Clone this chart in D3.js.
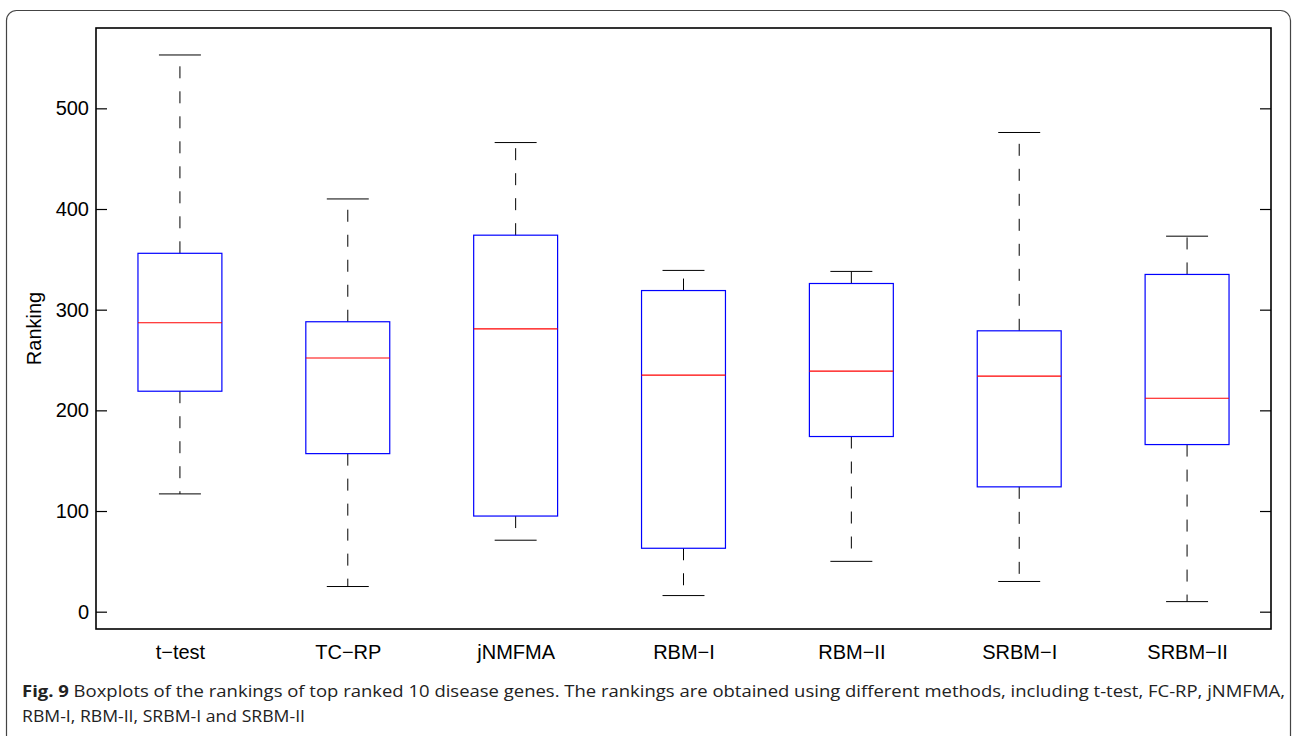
<!DOCTYPE html>
<html>
<head>
<meta charset="utf-8">
<script src="https://cdn.jsdelivr.net/npm/d3@7"></script>
<style>
  html, body { margin: 0; padding: 0; background: #fff; }
  svg { display: block; }
</style>
</head>
<body>
<svg id="chart" width="1292" height="736"></svg>
<script>
// Methods compared and their ranking distributions (five-number summaries)
const methods   = ["t\u2212test", "TC\u2212RP", "jNMFMA", "RBM\u2212I", "RBM\u2212II", "SRBM\u2212I", "SRBM\u2212II"];
const whiskerLo = [117, 25, 71, 16, 50, 30, 10];
const q1        = [219, 157, 95, 63, 174, 124, 166];
const medians   = [287, 252, 281, 235, 239, 234, 212];
const q3        = [356, 288, 374, 319, 326, 279, 335];
const whiskerHi = [553, 410, 466, 339, 338, 476, 373];
const yTicks    = [0, 100, 200, 300, 400, 500];

const svg = d3.select("#chart");

// Outer figure panel with rounded corners
svg.append("rect")
  .attr("x", 6.5).attr("y", 10.5)
  .attr("width", 1284).attr("height", 760)
  .attr("rx", 10).attr("ry", 10)
  .attr("fill", "none").attr("stroke", "#444").attr("stroke-width", 1.2);

const plotL = 96, plotR = 1271, plotT = 28, plotB = 629;

const x = d3.scaleLinear().domain([0.5, methods.length + 0.5]).range([plotL, plotR]);
const y = d3.scaleLinear().domain([-17.2, 579.8]).range([plotB, plotT]);

const boxW = 0.5, capW = 0.25;

const g = svg.append("g");

methods.forEach((m, i) => {
  const c = i + 1;
  const grp = g.append("g");
  // whiskers (dashed)
  grp.append("line")
    .attr("x1", x(c)).attr("x2", x(c))
    .attr("y1", y(q3[i])).attr("y2", y(whiskerHi[i]))
    .attr("stroke", "#000").attr("stroke-width", 1).attr("stroke-dasharray", "12,13");
  grp.append("line")
    .attr("x1", x(c)).attr("x2", x(c))
    .attr("y1", y(q1[i])).attr("y2", y(whiskerLo[i]))
    .attr("stroke", "#000").attr("stroke-width", 1).attr("stroke-dasharray", "12,13");
  // caps
  [whiskerHi[i], whiskerLo[i]].forEach(v => {
    grp.append("line")
      .attr("x1", x(c - capW / 2)).attr("x2", x(c + capW / 2))
      .attr("y1", y(v)).attr("y2", y(v))
      .attr("stroke", "#000").attr("stroke-width", 1);
  });
  // box
  grp.append("rect")
    .attr("x", x(c - boxW / 2)).attr("y", y(q3[i]))
    .attr("width", x(c + boxW / 2) - x(c - boxW / 2))
    .attr("height", y(q1[i]) - y(q3[i]))
    .attr("fill", "none").attr("stroke", "#0000ff").attr("stroke-width", 1.2);
  // median
  grp.append("line")
    .attr("x1", x(c - boxW / 2)).attr("x2", x(c + boxW / 2))
    .attr("y1", y(medians[i])).attr("y2", y(medians[i]))
    .attr("stroke", "#ff0000").attr("stroke-width", 1.2);
});

// Axes frame
svg.append("rect")
  .attr("x", plotL).attr("y", plotT)
  .attr("width", plotR - plotL).attr("height", plotB - plotT)
  .attr("fill", "none").attr("stroke", "#000").attr("stroke-width", 1.6);

const fontAxis = "'Liberation Sans', Arial, Helvetica, sans-serif";

// Left axis with inward ticks
const yAxisL = d3.axisLeft(y).tickValues(yTicks).tickSizeInner(-11).tickSizeOuter(0).tickPadding(7);
const gl = svg.append("g").attr("transform", `translate(${plotL},0)`).call(yAxisL);
gl.select(".domain").remove();
gl.selectAll(".tick line").attr("stroke", "#000").attr("stroke-width", 1.2);
gl.selectAll(".tick text").attr("font-family", fontAxis).attr("font-size", 20).attr("fill", "#000");

// Right axis ticks (mirrored, no labels)
const yAxisR = d3.axisRight(y).tickValues(yTicks).tickSizeInner(-11).tickSizeOuter(0).tickFormat("");
const gr = svg.append("g").attr("transform", `translate(${plotR},0)`).call(yAxisR);
gr.select(".domain").remove();
gr.selectAll(".tick line").attr("stroke", "#000").attr("stroke-width", 1.2);

// Category labels
const xAxis = d3.axisBottom(x).tickValues(d3.range(1, methods.length + 1))
  .tickFormat(d => methods[d - 1]).tickSize(0).tickPadding(16);
const gb = svg.append("g").attr("transform", `translate(0,${plotB})`).call(xAxis);
gb.select(".domain").remove();
gb.selectAll(".tick text").attr("font-family", fontAxis).attr("font-size", 20).attr("fill", "#000");

// Y-axis title
svg.append("text")
  .attr("transform", `translate(41,${(plotT + plotB) / 2}) rotate(-90)`)
  .attr("text-anchor", "middle")
  .attr("font-family", fontAxis).attr("font-size", 20).attr("fill", "#000")
  .text("Ranking");

// Caption
const fontCap = "'Open Sans', 'Noto Sans', sans-serif";
const cap1 = svg.append("text")
  .attr("x", 22).attr("y", 697)
  .attr("font-family", fontCap).attr("font-size", 16.5).attr("fill", "#222")
  .attr("textLength", 1263).attr("lengthAdjust", "spacingAndGlyphs");
cap1.append("tspan").attr("font-weight", "bold").text("Fig. 9");
cap1.append("tspan").text(" Boxplots of the rankings of top ranked 10 disease genes. The rankings are obtained using different methods, including t-test, FC-RP, jNMFMA,");

svg.append("text")
  .attr("x", 22).attr("y", 722)
  .attr("font-family", fontCap).attr("font-size", 16.5).attr("fill", "#222")
  .attr("textLength", 283).attr("lengthAdjust", "spacingAndGlyphs")
  .text("RBM-I, RBM-II, SRBM-I and SRBM-II");
</script>
</body>
</html>
